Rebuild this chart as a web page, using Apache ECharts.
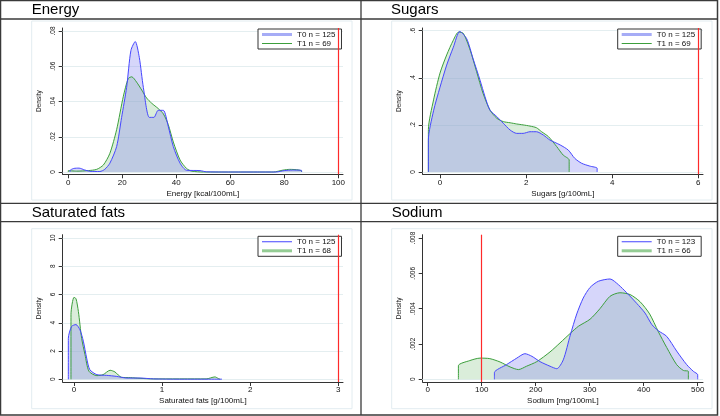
<!DOCTYPE html>
<html>
<head>
<meta charset="utf-8">
<script src="https://cdn.jsdelivr.net/npm/echarts@6/dist/echarts.min.js"></script>
<style>
  html, body { margin: 0; padding: 0; background: #fff; }
  #chart { width: 720px; height: 416px; }
</style>
</head>
<body>
<div id="chart"></div>
<script>
  // density curves, [x, density]
  var energyT0 = [[0.6,0],[0.6,0.0008],[2,0.002],[4,0.0022],[6,0.0012],[8,0.0004],[11.7,0.0003],[13.5,0.0015],[15.4,0.005],[17.9,0.0144],[19.75,0.031],[21.6,0.048],[23.2,0.069],[24.8,0.074],[26.3,0.065],[27.8,0.048],[30,0.031],[31.7,0.031],[33.3,0.035],[35.2,0.035],[37,0.026],[38.9,0.0144],[41.4,0.005],[43.8,0.001],[48.8,0.0008],[51.2,0.0001],[60,0],[77,0],[80,0.0008],[83,0.0011],[86.4,0.0009],[86.4,0]];
  var energyT1 = [[0,0],[0,0.0008],[3,0.0005],[7.4,0.0008],[10.5,0.0015],[13,0.004],[15.4,0.0106],[17.9,0.024],[20.4,0.043],[22.2,0.053],[23.5,0.054],[25.3,0.051],[27.2,0.0465],[29,0.042],[30.9,0.039],[33.3,0.036],[35.2,0.033],[37,0.027],[38.9,0.017],[41.4,0.0068],[43.8,0.002],[45.7,0.0005],[50,0],[75.9,0],[79.6,0.0011],[82,0.0015],[85.2,0.0012],[86.4,0.0005],[86.4,0]];
  var sugarsT0 = [[-0.27,0],[-0.27,0.136],[-0.15,0.26],[0,0.36],[0.155,0.454],[0.31,0.53],[0.46,0.597],[0.62,0.566],[0.77,0.48],[0.93,0.39],[1.045,0.32],[1.16,0.263],[1.32,0.235],[1.47,0.207],[1.63,0.178],[1.78,0.164],[1.93,0.164],[2.09,0.171],[2.24,0.171],[2.4,0.157],[2.55,0.136],[2.79,0.115],[2.98,0.093],[3.13,0.058],[3.29,0.037],[3.48,0.025],[3.65,0.016],[3.65,0]];
  var sugarsT1 = [[-0.27,0],[-0.27,0.18],[-0.15,0.306],[0,0.42],[0.155,0.497],[0.31,0.56],[0.43,0.594],[0.54,0.589],[0.7,0.518],[0.85,0.426],[1.0,0.334],[1.16,0.263],[1.32,0.228],[1.47,0.214],[1.63,0.209],[1.78,0.204],[1.93,0.2],[2.09,0.195],[2.24,0.188],[2.36,0.171],[2.52,0.15],[2.71,0.108],[2.86,0.072],[3.0,0.051],[3.0,0]];
  var fatsT0 = [[-0.064,0],[-0.064,2.9],[-0.026,3.75],[0.023,3.87],[0.068,3.5],[0.106,2.7],[0.144,1.5],[0.18,0.68],[0.26,0.33],[0.37,0.28],[0.48,0.21],[0.6,0.09],[0.75,0.09],[0.9,0.03],[1.2,0.01],[1.68,0.01],[1.68,0]];
  var fatsT1 = [[-0.034,0],[-0.034,4.6],[0,5.8],[0.023,5.7],[0.05,4.8],[0.087,2.9],[0.125,1.75],[0.17,0.57],[0.26,0.26],[0.33,0.33],[0.41,0.64],[0.465,0.52],[0.54,0.14],[0.64,0.12],[0.75,0.07],[0.9,0.03],[1.5,0.03],[1.6,0.17],[1.64,0.05],[1.66,0]];
  var sodiumT0 = [[123.5,0],[123.5,0.00038],[146,0.00083],[165,0.0012],[180,0.00145],[193,0.0013],[208,0.001],[226.5,0.00074],[239,0.0006],[251,0.0011],[264,0.0025],[276,0.0037],[288,0.0046],[300.6,0.0052],[316,0.00555],[337.6,0.00568],[353,0.00536],[368.5,0.0049],[387,0.0043],[402.5,0.00375],[415,0.0031],[427,0.00275],[442.6,0.00243],[461,0.0016],[479.6,0.00083],[492,0.00045],[500,0.00026],[500,0]];
  var sodiumT1 = [[56.8,0],[56.8,0.00077],[78,0.00106],[97,0.0012],[115,0.00117],[134,0.00098],[152.5,0.0007],[168,0.00055],[183,0.00074],[202,0.001],[226.5,0.00155],[245,0.00206],[264,0.0026],[279,0.003],[300.6,0.0034],[319,0.004],[337.6,0.0047],[356,0.0049],[374.6,0.0048],[393,0.0044],[411,0.0037],[427,0.0027],[442.6,0.0018],[461,0.00083],[473.5,0.0005],[482.7,0.00045],[482.7,0]];

  var energyXTicks = [0, 20, 40, 60, 80, 100];
  var energyYTicks = [0, 0.02, 0.04, 0.06, 0.08];
  var sugarsXTicks = [0, 2, 4, 6];
  var sugarsYTicks = [0, 0.2, 0.4, 0.6];
  var fatsXTicks = [0, 1, 2, 3];
  var fatsYTicks = [0, 2, 4, 6, 8, 10];
  var sodiumXTicks = [0, 100, 200, 300, 400, 500];
  var sodiumYTicks = [0, 0.002, 0.004, 0.006, 0.008];

  var titles = ['Energy', 'Sugars', 'Saturated fats', 'Sodium'];
  var xNames = ['Energy [kcal/100mL]', 'Sugars [g/100mL]', 'Saturated fats [g/100mL]', 'Sodium [mg/100mL]'];
  var t0Names = ['T0 n = 125', 'T0 n = 125', 'T0 n = 125', 'T0 n = 123'];
  var t1Names = ['T1 n = 69', 'T1 n = 69', 'T1 n = 68', 'T1 n = 66'];
  var thresholds = [100, 6, 3, 100];

  var FONT = '"Liberation Sans", Arial, sans-serif';
  var BLUE = '#4646ff', BLUE_FILL = 'rgba(140,140,240,0.5)';
  var GREEN = '#3c9f3c', GREEN_FILL = 'rgba(150,205,150,0.5)';
  var THIN = 'path://M0,0L30,0L30,0.001L0,0.001Z M0,1L30,1L30,2L0,2Z M0,3L30,3L30,2.999L0,2.999Z';

  var panels = [
    { t0: energyT0, t1: energyT1, xt: energyXTicks, yt: energyYTicks, left: 62.7, top: 28, h: 146.3,
      xMin: -2.07, xMax: 101.74, yMin: -0.0013, yMax: 0.0817, tx: 31.7, ty: 0.5, lx: 258, ly: 29, thickT0: true },
    { t0: sugarsT0, t1: sugarsT1, xt: sugarsXTicks, yt: sugarsYTicks, left: 422.7, top: 28, h: 146.3,
      xMin: -0.402, xMax: 6.109, yMin: -0.0098, yMax: 0.6115, tx: 391, ty: 0.5, lx: 617.7, ly: 29, thickT0: true },
    { t0: fatsT0, t1: fatsT1, xt: fatsXTicks, yt: fatsYTicks, left: 62.7, top: 234.7, h: 147.3,
      xMin: -0.128, xMax: 3.053, yMin: -0.19, yMax: 10.23, tx: 31.7, ty: 203.5, lx: 258, ly: 236.3, thickT0: false },
    { t0: sodiumT0, t1: sodiumT1, xt: sodiumXTicks, yt: sodiumYTicks, left: 422.7, top: 234.7, h: 147.3,
      xMin: -9.3, xMax: 509.8, yMin: -0.000153, yMax: 0.008187, tx: 391.7, ty: 203.5, lx: 617.7, ly: 236.3, thickT0: false }
  ];

  function fmt(v) {
    return v === 0 ? '0' : String(v).replace(/^0\./, '.');
  }

  var option = {
    animation: false,
    backgroundColor: '#fff',
    textStyle: { fontFamily: FONT },
    title: [], grid: [], xAxis: [], yAxis: [], legend: [], series: [],
    graphic: [
      { type: 'rect', shape: { x: 0.5, y: 0.5, width: 717, height: 414.5 }, style: { fill: null, stroke: '#3a3a3a', lineWidth: 1.5 } },
      { type: 'line', shape: { x1: 361, y1: 0, x2: 361, y2: 415 }, style: { stroke: '#3a3a3a', lineWidth: 1.3 } },
      { type: 'line', shape: { x1: 0, y1: 19, x2: 718, y2: 19 }, style: { stroke: '#3a3a3a', lineWidth: 1.3 } },
      { type: 'line', shape: { x1: 0, y1: 203.3, x2: 718, y2: 203.3 }, style: { stroke: '#3a3a3a', lineWidth: 1.3 } },
      { type: 'line', shape: { x1: 0, y1: 221.7, x2: 718, y2: 221.7 }, style: { stroke: '#3a3a3a', lineWidth: 1.3 } },
      { type: 'rect', shape: { x: 31.7, y: 21, width: 320.3, height: 179 }, style: { fill: null, stroke: '#e2ecf0', lineWidth: 1 } },
      { type: 'rect', shape: { x: 391.7, y: 21, width: 320.3, height: 179 }, style: { fill: null, stroke: '#e2ecf0', lineWidth: 1 } },
      { type: 'rect', shape: { x: 31.7, y: 228.7, width: 320.3, height: 180 }, style: { fill: null, stroke: '#e2ecf0', lineWidth: 1 } },
      { type: 'rect', shape: { x: 391.7, y: 228.7, width: 320.3, height: 180 }, style: { fill: null, stroke: '#e2ecf0', lineWidth: 1 } }
    ]
  };

  panels.forEach(function (p, i) {
    option.title.push({
      text: titles[i], left: p.tx, top: p.ty, padding: 0,
      textStyle: { fontSize: 15, fontWeight: 'normal', color: '#000', lineHeight: 18, fontFamily: FONT }
    });
    option.grid.push({ left: p.left, top: p.top, width: 280.3, height: p.h });
    option.xAxis.push({
      type: 'value', gridIndex: i, min: p.xMin, max: p.xMax,
      name: xNames[i], nameLocation: 'middle', nameGap: 15,
      nameTextStyle: { fontSize: 8, color: '#111', fontFamily: FONT },
      axisLine: { onZero: false, lineStyle: { color: '#333', width: 1 } },
      axisTick: { customValues: p.xt, length: 4, lineStyle: { color: '#333' } },
      axisLabel: { customValues: p.xt, fontSize: 8, color: '#111', margin: 4, formatter: fmt, fontFamily: FONT },
      splitLine: { show: false }
    });
    option.yAxis.push({
      type: 'value', gridIndex: i, min: p.yMin, max: p.yMax,
      name: 'Density', nameLocation: 'middle', nameGap: 20, nameRotate: 90,
      nameTextStyle: { fontSize: 6.5, color: '#111', fontFamily: FONT },
      axisLine: { onZero: false, lineStyle: { color: '#333', width: 1 } },
      axisTick: { customValues: p.yt, length: 4, lineStyle: { color: '#333' } },
      axisLabel: { customValues: p.yt, fontSize: 6.5, rotate: 90, color: '#111', margin: 6, formatter: fmt, fontFamily: FONT },
      splitLine: { show: false }
    });
    option.legend.push({
      left: p.lx, top: p.ly, orient: 'vertical', selectedMode: false,
      padding: [1, 6, 1, 4], itemGap: 0, itemWidth: 30, itemHeight: 3,
      borderColor: '#333', borderWidth: 1, backgroundColor: '#fff',
      textStyle: { fontSize: 8, lineHeight: 9, color: '#111', fontFamily: FONT },
      data: [
        { name: t0Names[i], icon: p.thickT0 ? 'rect' : THIN, itemStyle: { color: p.thickT0 ? '#a6acf6' : BLUE } },
        { name: t1Names[i], icon: p.thickT0 ? THIN : 'rect', itemStyle: { color: p.thickT0 ? GREEN : '#94cc94' } }
      ]
    });
    option.series.push({
      name: t1Names[i], type: 'line', xAxisIndex: i, yAxisIndex: i, data: p.t1,
      smooth: 0.25, showSymbol: false, silent: true,
      lineStyle: { color: GREEN, width: 1 }, itemStyle: { color: GREEN },
      areaStyle: { color: GREEN_FILL },
      markLine: {
        z: 1, silent: true, symbol: ['none', 'none'], label: { show: false },
        lineStyle: { color: '#e4eef0', width: 1, type: 'solid' },
        data: p.yt.map(function (v) { return { yAxis: v }; })
      }
    });
    option.series.push({
      name: t0Names[i], type: 'line', xAxisIndex: i, yAxisIndex: i, data: p.t0,
      smooth: 0.25, showSymbol: false, silent: true,
      lineStyle: { color: BLUE, width: 1 }, itemStyle: { color: BLUE },
      areaStyle: { color: BLUE_FILL },
      markLine: {
        silent: true, symbol: ['none', 'none'], label: { show: false },
        lineStyle: { color: '#ff2a2a', width: 1.2, type: 'solid' },
        data: [{ xAxis: thresholds[i] }]
      }
    });
  });

  var chart = echarts.init(document.getElementById('chart'));
  chart.setOption(option);
</script>
</body>
</html>
